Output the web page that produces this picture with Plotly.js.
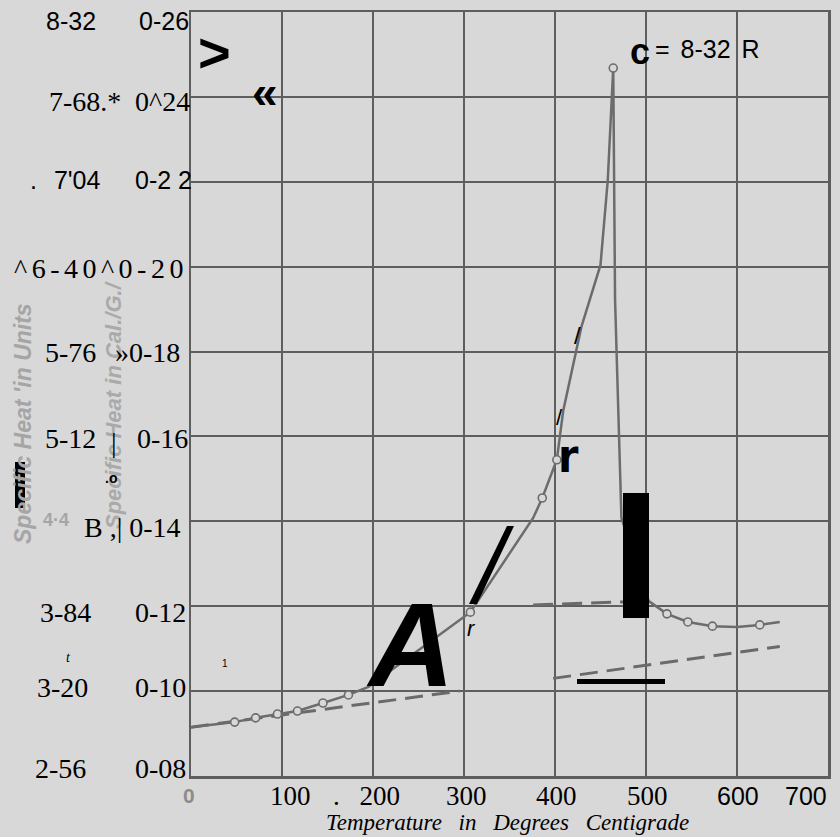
<!DOCTYPE html>
<html>
<head>
<meta charset="utf-8">
<script src="https://cdn.plot.ly/plotly-3.0.1.min.js"></script>
<style>
  html, body { margin: 0; padding: 0; background: #d8d8d8; }
  #chart { width: 840px; height: 837px; }
</style>
</head>
<body>
<div id="chart"></div>
<script>
// ---------------- data ----------------
const temperatureC = [0, 48, 71, 95, 117, 145, 173, 195, 307, 376, 386, 402, 409, 429, 450, 458, 463, 464, 466, 473, 503, 523, 546, 573, 600, 625, 647];
const specificHeat = [0.0915, 0.0927, 0.0937, 0.0946, 0.0953, 0.0972, 0.0991, 0.1010, 0.1186, 0.1408, 0.1455, 0.1545, 0.1660, 0.1858, 0.2004, 0.2204, 0.2400, 0.2468, 0.1922, 0.1408, 0.1212, 0.1182, 0.1163, 0.1153, 0.1151, 0.1156, 0.1163];

const markerTemperatureC = [48, 71, 95, 117, 145, 173, 307, 386, 402, 464, 523, 546, 573, 625];
const markerSpecificHeat = [0.0927, 0.0937, 0.0946, 0.0953, 0.0972, 0.0991, 0.1186, 0.1455, 0.1545, 0.2468, 0.1182, 0.1163, 0.1153, 0.1156];

const lowerDashTemperatureC = [0, 295, null, 398, 647];
const lowerDashHeat = [0.0915, 0.1000, null, 0.1030, 0.1105];

const upperDashTemperatureC = [376, 503];
const upperDashHeat = [0.1203, 0.1212];

const xTickValues = [0, 100, 200, 300, 400, 500, 600, 700];
const xTickLabels = ["0", "100", ". 200", "300", "400", "500", "600", "700"];
const yTickValues = [0.26, 0.24, 0.22, 0.20, 0.18, 0.16, 0.14, 0.12, 0.10, 0.08];
const yLeftLabels = ["8-32", "7-68.*", ". 7'04", "^6-40^0-20", "5-76", "5-12", "", "3-84", "3-20", "2-56"];
const yRightLabels = ["0-26", "0^24", "0-2 2", "", "»0-18", "0-16", "B ,| 0-14", "0-12", "0-10", "0-08"];
const xAxisTitle = "Temperature in Degrees Centigrade";
const calloutText = ["c", "= 8-32 R"];

// ---------------- layout helpers ----------------
const L = 191, R = 828, T = 12, B = 776, W = 840, H = 837;
const PW = R - L, PH = B - T;
const px = x => (x - L) / PW;
const py = y => (B - y) / PH;

const SERIF = "Liberation Serif, Times New Roman, serif";
const SANS = "Liberation Sans, Arial, sans-serif";
const BG = "#d8d8d8";
const GRID = "#5e5e5e";
const INK = "#000000";
const CURVE = "#6c6c6c";

const ann = [];
function addText(text, x, y, o) {
  o = o || {};
  ann.push({
    xref: "paper", yref: "paper", x: px(x), y: py(y),
    xanchor: o.anchor || "left", yanchor: "middle", align: o.anchor || "left",
    text: text, showarrow: false, textangle: o.angle || 0,
    font: { family: o.family || SERIF, size: o.size || 28, color: o.color || INK,
            weight: o.weight || "normal", style: o.style || "normal" },
    _ls: o.ls || 0, _ws: o.ws || 0
  });
}

// faint scanned axis titles (behind)
addText("Specific Heat 'in Units", 23, 424, { anchor: "center", angle: -90, family: SANS, size: 23, weight: "bold", style: "italic", color: "#a5a5a5" });
addText("Specific Heat in Cal./G./", 113, 405, { anchor: "center", angle: -90, family: SANS, size: 22, weight: "bold", style: "italic", color: "#aaaaaa" });
addText("4·4", 56, 520, { anchor: "center", family: SANS, size: 18, weight: "bold", color: "#a6a6a6" });
addText("0", 189, 795, { anchor: "center", family: SANS, size: 21, weight: "bold", color: "#8c8c8c" });

// left label column
const leftPos = [[44, 21, SANS, 25], [47, 101, SERIF, 28], [28, 180, SANS, 25], [12, 269, SERIF, 28], [43, 352, SERIF, 28], [43, 439, SERIF, 28], null, [38, 612, SERIF, 28], [35, 687, SERIF, 28], [33, 768, SERIF, 28]];
yLeftLabels.forEach((t, i) => {
  if (!t || !leftPos[i]) return;
  const p = leftPos[i];
  const o = { family: p[2], size: p[3] };
  if (t.startsWith("^6")) o.ls = 4.5;
  if (t.startsWith(".")) o.ws = 10;
  addText(t, p[0], p[1], o);
});
// right label column
const rightPos = [[137, 21, SANS, 25], [133, 101, SERIF, 28], [133, 180, SANS, 25], null, [113, 352, SERIF, 28], [135, 439, SERIF, 28], [82, 527, SERIF, 28], [133, 612, SERIF, 28], [133, 687, SERIF, 28], [133, 768, SERIF, 28]];
yRightLabels.forEach((t, i) => {
  if (!t || !rightPos[i]) return;
  const p = rightPos[i];
  addText(t, p[0], p[1], { family: p[2], size: p[3] });
});
addText("|", 114, 442, { anchor: "center", size: 28 });
addText("t", 68, 657, { anchor: "center", size: 14, style: "italic" });
addText("1", 225, 663, { anchor: "center", family: SANS, size: 10 });
addText(".o", 111, 478, { anchor: "center", family: SANS, size: 14, weight: "bold" });

// x tick labels
const xLabelY = 796;
const xLabelPos = [null, [290, SERIF, 27], [331, SERIF, 27], [466, SERIF, 27], [556, SERIF, 27], [647, SERIF, 27], [738, SANS, 25], [806, SANS, 25]];
xTickLabels.forEach((t, i) => {
  const p = xLabelPos[i];
  if (!p) return;
  if (t.startsWith(".")) addText(t, p[0], xLabelY, { family: p[1], size: p[2], ws: 13 });
  else addText(t, p[0], xLabelY, { anchor: "center", family: p[1], size: p[2] });
});
addText(xAxisTitle, 324, 822, { family: SERIF, size: 23, style: "italic", ws: 11 });

// scanned-recognition glyphs over the plot
addText(">", 214, 52, { anchor: "center", family: SANS, size: 56, weight: "bold" });
addText("«", 265, 92, { anchor: "center", family: SANS, size: 46, weight: "bold" });
addText(calloutText[0], 628, 51, { family: SANS, size: 36, weight: "bold" });
addText(calloutText[1], 653, 49, { family: SANS, size: 25, ws: 4 });
addText("/", 577, 336, { anchor: "center", family: SANS, size: 24 });
addText("/", 559, 418, { anchor: "center", family: SANS, size: 22 });
addText("r", 568, 456, { anchor: "center", family: "Liberation Sans Narrow, DejaVu Sans Condensed, sans-serif", size: 46, weight: "bold" });
addText("r", 471, 628, { anchor: "center", family: SANS, size: 22, style: "italic" });
addText("A", 410, 645, { anchor: "center", family: SANS, size: 118, weight: "bold", style: "italic" });

const rect = (x0, y0, x1, y1) => ({ type: "rect", xref: "paper", yref: "paper", x0: px(x0), x1: px(x1), y0: py(y1), y1: py(y0), fillcolor: INK, line: { width: 0 }, layer: "above" });
const poly = pts => ({ type: "path", xref: "paper", yref: "paper", path: "M " + pts.map(p => px(p[0]) + " " + py(p[1])).join(" L ") + " Z", fillcolor: INK, line: { width: 0 }, layer: "above" });
const shapes = [
  rect(15, 462, 25, 508),
  rect(623, 493, 649, 618),
  rect(577, 679, 665, 684),
  poly([[469, 604], [477, 604], [514, 526], [507, 526]])
];

// ---------------- traces ----------------
const traces = [
  { x: lowerDashTemperatureC, y: lowerDashHeat, mode: "lines", connectgaps: false,
    line: { color: "#6a6a6a", width: 3, dash: "18px,9px" } },
  { x: upperDashTemperatureC, y: upperDashHeat, mode: "lines",
    line: { color: "#6a6a6a", width: 3, dash: "20px,9px" } },
  { x: temperatureC, y: specificHeat, mode: "lines",
    line: { color: CURVE, width: 2.5 } },
  { x: markerTemperatureC, y: markerSpecificHeat, mode: "markers",
    marker: { symbol: "circle", size: 8, color: BG, line: { color: CURVE, width: 1.6 } } }
];

const axisCommon = {
  showgrid: true, gridcolor: GRID, gridwidth: 2, zeroline: false,
  showline: true, mirror: true, linecolor: GRID, linewidth: 2.5,
  ticks: "", showticklabels: false, fixedrange: true
};

const layout = {
  width: W, height: H, autosize: false,
  margin: { l: L, r: W - R, t: T, b: H - B, pad: 0 },
  paper_bgcolor: BG, plot_bgcolor: BG,
  showlegend: false, hovermode: false,
  xaxis: Object.assign({}, axisCommon, { range: [0, 700], tickvals: xTickValues }),
  yaxis: Object.assign({}, axisCommon, { range: [0.08, 0.26], tickvals: yTickValues }),
  annotations: ann.map(a => { const c = Object.assign({}, a); delete c._ls; delete c._ws; return c; }),
  shapes: shapes
};

Plotly.newPlot("chart", traces, layout, { staticPlot: true, displayModeBar: false }).then(() => {
  ann.forEach((a, i) => {
    if (!a._ls && !a._ws) return;
    const el = document.querySelector('.annotation[data-index="' + i + '"] text.annotation-text');
    if (!el) return;
    if (a._ls) el.style.letterSpacing = a._ls + "px";
    if (a._ws) el.style.wordSpacing = a._ws + "px";
  });
});
</script>
</body>
</html>
